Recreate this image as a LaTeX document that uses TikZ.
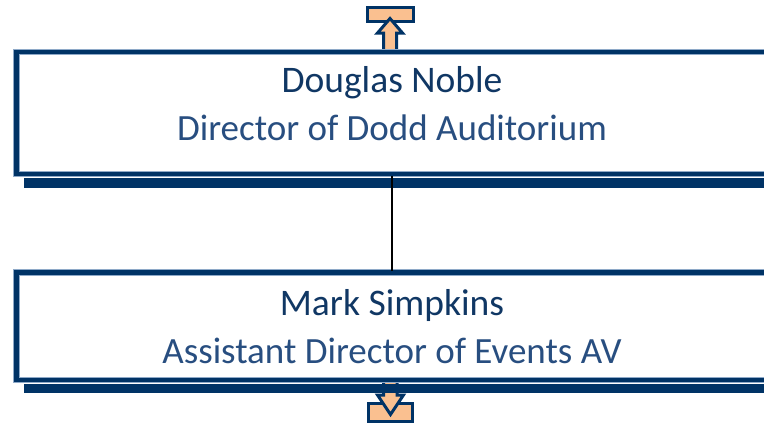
\documentclass[tikz,border=0pt]{standalone}
\usepackage{fontspec}
\setmainfont{Carlito}
\definecolor{navy}{RGB}{0,51,102}
\definecolor{edgeblue}{RGB}{142,169,200}
\definecolor{peach}{RGB}{250,192,144}
\definecolor{nametext}{RGB}{16,55,100}
\definecolor{titletext}{RGB}{40,78,128}
\tikzset{
  frameedge/.style={draw=edgeblue, line width=6.4pt, fill=white, rectangle, minimum width=751pt, inner sep=0pt, outer sep=0pt},
  frameline/.style={draw=navy, line width=4.8pt},
  shadowbar/.style={fill=navy, draw=none},
  iconshape/.style={fill=peach, draw=navy, line width=3pt, line join=miter},
  nametxt/.style={text=nametext, font=\fontsize{37.5}{45}\selectfont, anchor=base, inner sep=0pt},
  titletxt/.style={text=titletext, font=\fontsize{37}{45}\selectfont, anchor=base, inner sep=0pt},
  link/.style={draw=black, line width=1.5pt}
}
\begin{document}
\begin{tikzpicture}[x=1pt,y=-1pt]
\useasboundingbox (0,0) rectangle (764,424);
\clip (0,0) rectangle (764,424);
% icons
\draw[iconshape] (367.5,7.5) rectangle (413.5,21.5);
\draw[iconshape] (383.5,50) -- (383.5,33) -- (377.5,33) -- (390,18.5) -- (402.5,33) -- (396.5,33) -- (396.5,50);
\draw[iconshape] (368.5,403.5) rectangle (412.5,421.5);
\draw[iconshape] (383.5,378) -- (383.5,395) -- (377.5,395) -- (390.5,414.5) -- (403.5,395) -- (397,395) -- (397,378);
% shadows
\fill[shadowbar] (24,178) rectangle (790,188);
\fill[shadowbar] (24,384) rectangle (790,393);
% boxes
\node[frameedge, minimum height=122pt] (b1) at (392,113) {};
\node[frameedge, minimum height=107.5pt] (b2) at (392,326.25) {};
\draw[frameline] (b1.north west) rectangle (b1.south east);
\draw[frameline] (b2.north west) rectangle (b2.south east);
% connector
\path[link] ([yshift=-2pt]b1.south) -- ([yshift=2pt]b2.north);
% texts
\node[nametxt] (n1) at (392,92) {Douglas Noble};
\node[titletxt] (t1) at (392,140) {Director of Dodd Auditorium};
\node[nametxt] (n2) at (392,315.5) {Mark Simpkins};
\node[titletxt] (t2) at (392,363) {Assistant Director of Events AV};
\end{tikzpicture}
\end{document}
